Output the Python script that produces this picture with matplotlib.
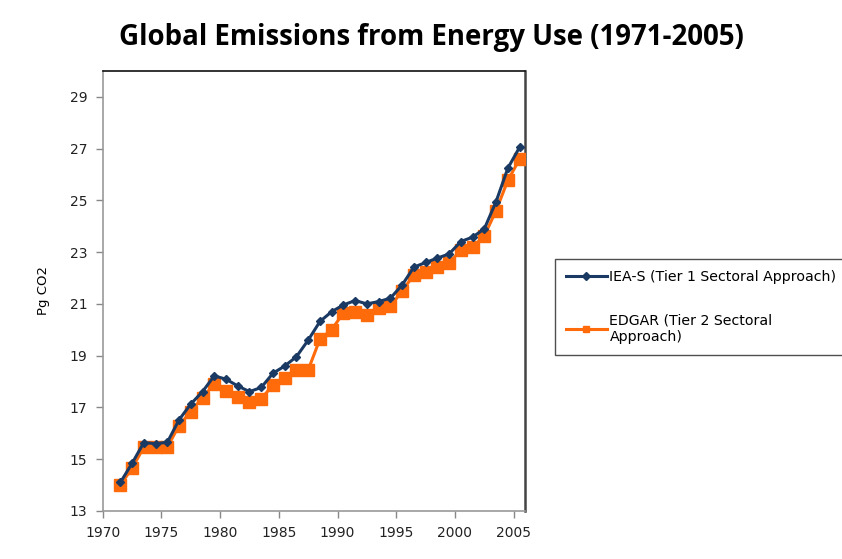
import matplotlib.pyplot as plt
import numpy as np

years = np.arange(1971, 2006)

iea_s = [14.1, 14.84, 15.64, 15.6, 15.65, 16.52, 17.13, 17.61, 18.22, 18.09,
         17.83, 17.61, 17.77, 18.32, 18.6, 18.96, 19.6, 20.32, 20.7, 20.96,
         21.13, 21.0, 21.09, 21.22, 21.73, 22.42, 22.6, 22.77, 22.93, 23.41,
         23.58, 23.9, 24.95, 26.24, 27.05]

edgar = [14.0, 14.65, 15.46, 15.46, 15.46, 16.3, 16.84, 17.38, 17.9, 17.64,
         17.42, 17.19, 17.33, 17.87, 18.13, 18.45, 18.45, 19.64, 20.0, 20.66,
         20.7, 20.58, 20.83, 20.9, 21.5, 22.12, 22.25, 22.42, 22.57, 23.09,
         23.19, 23.63, 24.6, 25.77, 26.59]

labels = ["IEA-S (Tier 1 Sectoral Approach)", "EDGAR (Tier 2 Sectoral\nApproach)"]
xticks = [1970, 1975, 1980, 1985, 1990, 1995, 2000, 2005]
yticks = [13, 15, 17, 19, 21, 23, 25, 27, 29]

BLUE = "#1b3a63"
ORANGE = "#ff6a0a"

fig = plt.figure(figsize=(8.42, 5.59), dpi=100)
ax = fig.add_axes([0.122, 0.086, 0.502, 0.787])

# annual values sit mid-year between the tick marks
x = years + 0.5
l1, = ax.plot(x, iea_s, color=BLUE, lw=2.2, marker="D", ms=4, label=labels[0], zorder=4)
l2, = ax.plot(x, edgar, color=ORANGE, lw=2.2, marker="s", ms=8, label=labels[1], zorder=3)

ax.set_xlim(1970, 2006)
ax.set_ylim(13, 30)
ax.set_xticks(xticks)
ax.set_yticks(yticks)
ax.tick_params(axis="both", labelsize=10, color="#888888", length=5, width=1,
               labelcolor="#222222")
ax.tick_params(axis="y", pad=6)
ax.tick_params(axis="x", pad=6)

for side in ("left", "bottom"):
    ax.spines[side].set_color("#999999")
    ax.spines[side].set_linewidth(1.2)
ax.spines["top"].set_color("#111111")
ax.spines["right"].set_color("#444444")
ax.spines["top"].set_linewidth(1.2)
ax.spines["right"].set_linewidth(1.8)

ax.set_ylabel("Pg CO2", fontsize=9.5, labelpad=14)

fig.suptitle("Global Emissions from Energy Use (1971-2005)", x=0.512, y=0.958,
             fontsize=19.9, fontweight="bold", family="Open Sans")

leg = fig.legend(handles=[l1, l2], loc="upper left", bbox_to_anchor=(0.659, 0.536),
                 fontsize=10.2, frameon=True, fancybox=False, edgecolor="#222222",
                 handlelength=2.9, handletextpad=0.2, labelspacing=2.1,
                 borderpad=0.75, borderaxespad=0)
leg.get_frame().set_linewidth(1.0)
for h in leg.legend_handles:
    h.set_markersize(4)
    h.set_linewidth(2.2)

fig.savefig("out.png", dpi=100)
